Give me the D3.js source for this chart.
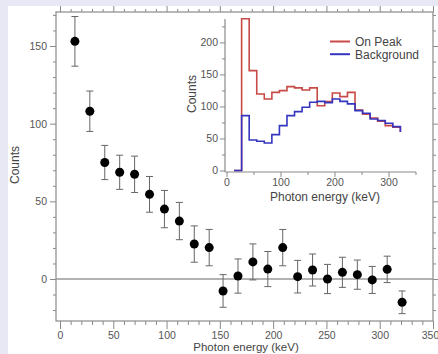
<!DOCTYPE html>
<html>
<head>
<meta charset="utf-8">
<script src="https://cdn.jsdelivr.net/npm/d3@7"></script>
<style>
  body { margin: 0; background: #e8e8f4; }
  svg { display: block; font-family: "Liberation Sans", Arial, sans-serif; }
</style>
</head>
<body>
<svg id="chart" width="438" height="354"></svg>
<script>
// main plot: net counts per energy bin
const energy = [14, 28, 42, 56, 70, 84, 98, 112, 126, 140, 153, 167, 181, 195, 209, 223, 237, 251, 265, 279, 293, 307, 321];
const counts = [153, 108, 75, 68.7, 67.4, 54.5, 45, 37.3, 22.5, 20.2, -7.7, 1.9, 11, 6.4, 20.2, 1.5, 5.8, 0, 4.3, 2.8, -0.6, 6.2, -15];
const errors = [16, 13, 11, 11, 11.7, 11.5, 12, 12, 11.7, 11.7, 10.5, 11, 11.6, 11.3, 11.7, 10.5, 10.3, 9.4, 9.7, 9.4, 8.7, 8.5, 7.3];

// inset: histogram bin edges and step values
const binEdges = [14, 28, 42, 56, 70, 84, 98, 112, 126, 140, 154, 168, 182, 196, 210, 224, 238, 252, 266, 280, 294, 308, 322];
const onPeak = [0, 237, 156, 119.5, 111.7, 122, 124.7, 131, 129, 125.8, 129, 101, 107.5, 121, 115.4, 122, 94.5, 88, 82, 77, 70, 67.5, 60];
const background = [0, 85.7, 47.6, 45.6, 43, 56, 70, 85.7, 92, 98.7, 106.5, 108, 106, 111.7, 108, 104, 93.5, 89.3, 80.5, 78, 73.7, 68.5, 60];

const mainXTicks = d3.range(0, 351, 50);
const mainYTicks = [0, 50, 100, 150];
const insetXTicks = [0, 100, 200, 300];
const insetYTicks = [0, 50, 100, 150, 200];

const svg = d3.select('#chart');
const axisColor = '#8a8a8a';
const labelColor = '#555';

svg.append('rect').attr('x', 8).attr('y', 6).attr('width', 430).attr('height', 348).attr('fill', '#fff');

// ---- main plot ----
const frame = {left: 56, right: 433, top: 12, bottom: 321};
const x = d3.scaleLinear().domain([0, 350]).range([60, 433]);
const y = d3.scaleLinear().domain([0, 150]).range([279, 46]);

function styleAxis(g){
  g.select('.domain').remove();
  g.selectAll('line').attr('stroke', axisColor);
  g.selectAll('text').attr('fill', labelColor).attr('font-size', 10.5).attr('font-family', '"Liberation Sans", Arial, sans-serif');
}

const minorX = d3.range(0, 351, 10).filter(v => v % 50 !== 0);
const minorY = d3.range(-20, 171, 10).filter(v => v % 50 !== 0);

// bottom
svg.append('g').attr('transform', `translate(0,${frame.bottom})`)
  .call(d3.axisBottom(x).tickValues(mainXTicks).tickSize(8).tickPadding(3).tickFormat(d3.format('d')))
  .call(styleAxis)
  .selectAll('text').filter(d => d === 350).attr('dx', -3);
svg.append('g').attr('transform', `translate(0,${frame.bottom})`)
  .call(d3.axisBottom(x).tickValues(minorX).tickSize(4).tickFormat(''))
  .call(styleAxis);
// top
svg.append('g').attr('transform', `translate(0,${frame.top})`)
  .call(d3.axisTop(x).tickValues(mainXTicks).tickSize(6).tickFormat(''))
  .call(styleAxis);
svg.append('g').attr('transform', `translate(0,${frame.top})`)
  .call(d3.axisTop(x).tickValues(minorX).tickSize(3).tickFormat(''))
  .call(styleAxis);
// left
svg.append('g').attr('transform', `translate(${frame.left},0)`)
  .call(d3.axisLeft(y).tickValues(mainYTicks).tickSize(6).tickPadding(3))
  .call(styleAxis);
svg.append('g').attr('transform', `translate(${frame.left},0)`)
  .call(d3.axisLeft(y).tickValues(minorY).tickSize(3).tickFormat(''))
  .call(styleAxis);
// right
svg.append('g').attr('transform', `translate(${frame.right},0)`)
  .call(d3.axisRight(y).tickValues(mainYTicks).tickSize(6).tickFormat(''))
  .call(styleAxis);
svg.append('g').attr('transform', `translate(${frame.right},0)`)
  .call(d3.axisRight(y).tickValues(minorY).tickSize(3).tickFormat(''))
  .call(styleAxis);

svg.append('rect')
  .attr('x', frame.left).attr('y', frame.top)
  .attr('width', frame.right - frame.left).attr('height', frame.bottom - frame.top)
  .attr('fill', 'none').attr('stroke', axisColor).attr('stroke-width', 1.2);

// zero line
svg.append('line')
  .attr('x1', frame.left).attr('x2', frame.right)
  .attr('y1', y(0)).attr('y2', y(0))
  .attr('stroke', '#999').attr('stroke-width', 1.5);

const pts = energy.map((e, i) => ({e, c: counts[i], err: errors[i]}));
const eb = svg.append('g').attr('stroke', '#666').attr('stroke-width', 1);
eb.selectAll('line.v').data(pts).enter().append('line')
  .attr('x1', d => x(d.e)).attr('x2', d => x(d.e))
  .attr('y1', d => y(d.c + d.err)).attr('y2', d => y(d.c - d.err));
eb.selectAll('line.t').data(pts).enter().append('line')
  .attr('x1', d => x(d.e) - 3.5).attr('x2', d => x(d.e) + 3.5)
  .attr('y1', d => y(d.c + d.err)).attr('y2', d => y(d.c + d.err));
eb.selectAll('line.b').data(pts).enter().append('line')
  .attr('x1', d => x(d.e) - 3.5).attr('x2', d => x(d.e) + 3.5)
  .attr('y1', d => y(d.c - d.err)).attr('y2', d => y(d.c - d.err));

svg.append('g').selectAll('circle').data(pts).enter().append('circle')
  .attr('cx', d => x(d.e)).attr('cy', d => y(d.c)).attr('r', 4.5).attr('fill', '#000');

svg.append('text').attr('x', 246).attr('y', 350.5).attr('text-anchor', 'middle')
  .attr('font-size', 11.5).attr('fill', '#444').text('Photon energy (keV)');
svg.append('text').attr('transform', 'translate(19,165) rotate(-90)').attr('text-anchor', 'middle')
  .attr('font-size', 12).attr('fill', '#444').text('Counts');

// ---- inset ----
const xi = d3.scaleLinear().domain([0, 350]).range([226.5, 415.5]);
const yi = d3.scaleLinear().domain([0, 235]).range([170.5, 20]);
const inset = svg.append('g');

inset.append('g').attr('transform', 'translate(0,172)')
  .call(d3.axisBottom(xi).tickValues(insetXTicks).tickSize(5).tickPadding(2))
  .call(styleAxis);
inset.append('g').attr('transform', 'translate(0,172)')
  .call(d3.axisBottom(xi).tickValues([50, 150, 250, 350]).tickSize(3).tickFormat(''))
  .call(styleAxis);
inset.append('g').attr('transform', 'translate(225,0)')
  .call(d3.axisLeft(yi).tickValues(insetYTicks).tickSize(5).tickPadding(2))
  .call(styleAxis);
inset.append('g').attr('transform', 'translate(225,0)')
  .call(d3.axisLeft(yi).tickValues([25, 75, 125, 175, 225]).tickSize(3).tickFormat(''))
  .call(styleAxis);
inset.append('line').attr('x1', 225).attr('x2', 225).attr('y1', 19).attr('y2', 172).attr('stroke', axisColor).attr('stroke-width', 1.2);
inset.append('line').attr('x1', 225).attr('x2', 416).attr('y1', 172).attr('y2', 172).attr('stroke', axisColor).attr('stroke-width', 1.2);

const step = d3.line().x(d => xi(d[0])).y(d => yi(d[1])).curve(d3.curveStepAfter);
const redColor = '#c84a46';
const blueColor = '#3535c0';
inset.append('path').attr('d', step(binEdges.map((e, i) => [e, onPeak[i]])))
  .attr('fill', 'none').attr('stroke', redColor).attr('stroke-width', 1.6);
inset.append('path').attr('d', step(binEdges.map((e, i) => [e, background[i]])))
  .attr('fill', 'none').attr('stroke', blueColor).attr('stroke-width', 1.6);

inset.append('text').attr('x', 325).attr('y', 201).attr('text-anchor', 'middle')
  .attr('font-size', 12).attr('fill', '#444').text('Photon energy (keV)');
inset.append('text').attr('transform', 'translate(196,94) rotate(-90)').attr('text-anchor', 'middle')
  .attr('font-size', 12).attr('fill', '#444').text('Counts');

const legend = [{name: 'On Peak', color: redColor}, {name: 'Background', color: blueColor}];
const lg = inset.append('g').selectAll('g').data(legend).enter().append('g')
  .attr('transform', (d, i) => `translate(330,${41.5 + i * 12.7})`);
lg.append('line').attr('x1', 0).attr('x2', 20).attr('stroke', d => d.color).attr('stroke-width', 2);
lg.append('text').attr('x', 25).attr('y', 4.5).attr('font-size', 12).attr('fill', '#444').text(d => d.name);
</script>
</body>
</html>
